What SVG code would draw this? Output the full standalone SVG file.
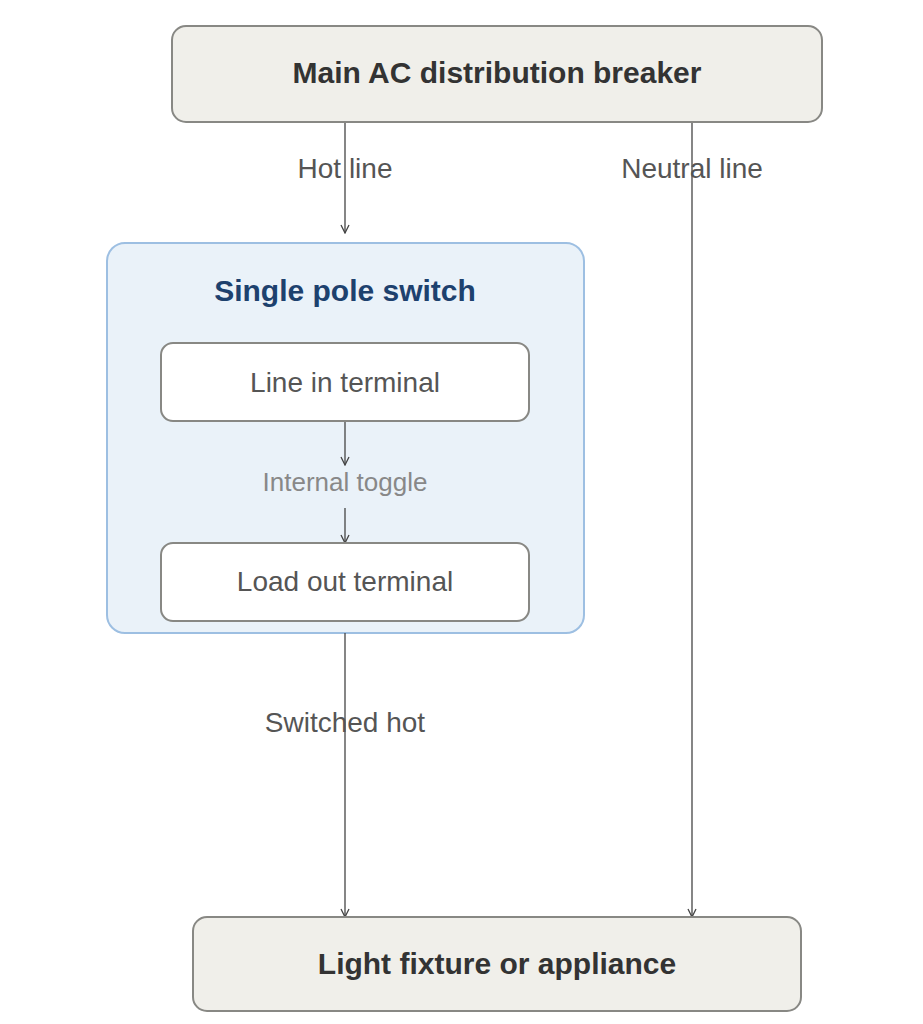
<svg xmlns="http://www.w3.org/2000/svg" width="923" height="1024" viewBox="0 0 923 1024">
<style>
text{font-family:"Liberation Sans",Arial,sans-serif;text-anchor:middle;dominant-baseline:central}
.term{fill:#f0efea;stroke:#888884;stroke-width:2}
.tt{font-size:30px;font-weight:bold;fill:#333}
.inner{fill:#fff;stroke:#888884;stroke-width:2}
.it{font-size:28px;fill:#555}
.lbl{font-size:28px;fill:#555}
.edge{stroke:#444;stroke-width:1.3;fill:none;marker-end:url(#a)}
</style>
<defs><marker id="a" viewBox="0 0 10 10" refX="9" refY="5" markerWidth="10" markerHeight="10" markerUnits="userSpaceOnUse" orient="auto"><path d="M1,1 L9,5 L1,9" fill="none" stroke="#444" stroke-width="1.3"/></marker></defs>
<rect width="923" height="1024" fill="#fff"/>
<g id="switch"><rect x="107" y="243" width="477" height="390" rx="18" fill="#eaf2f9" stroke="#9dbfe2" stroke-width="2"/><text x="345" y="290" font-size="30" font-weight="bold" fill="#1d416e">Single pole switch</text></g>
<g id="connectors">
<line class="edge" x1="345" y1="122" x2="345" y2="233"/>
<line class="edge" x1="692" y1="122" x2="692" y2="917"/>
<line class="edge" x1="345" y1="421" x2="345" y2="465"/>
<line class="edge" x1="345" y1="508" x2="345" y2="543"/>
<line class="edge" x1="345" y1="633" x2="345" y2="917"/>
<text class="lbl" x="345" y="168">Hot line</text>
<text class="lbl" x="692" y="168">Neutral line</text>
<text x="345" y="482" font-size="26" fill="#888">Internal toggle</text>
<text class="lbl" x="345" y="722">Switched hot</text>
</g>
<g id="main"><rect class="term" x="172" y="26" width="650" height="96" rx="14"/><text class="tt" x="497" y="72">Main AC distribution breaker</text></g>
<g id="linein"><rect class="inner" x="161" y="343" width="368" height="78" rx="12"/><text class="it" x="345" y="382">Line in terminal</text></g>
<g id="loadout"><rect class="inner" x="161" y="543" width="368" height="78" rx="12"/><text class="it" x="345" y="581">Load out terminal</text></g>
<g id="light"><rect class="term" x="193" y="917" width="608" height="94" rx="14"/><text class="tt" x="497" y="963">Light fixture or appliance</text></g>
</svg>
